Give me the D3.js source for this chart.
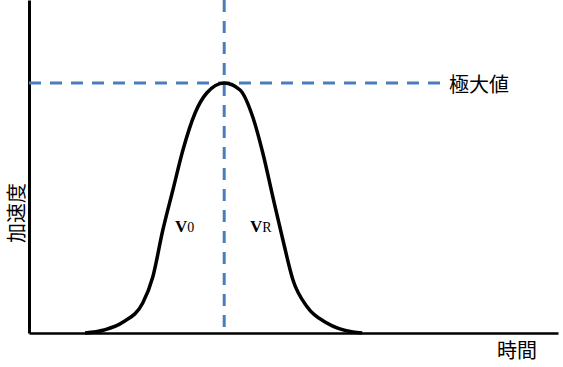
<!DOCTYPE html>
<html lang="ja">
<head>
<meta charset="UTF-8">
<title>加速度</title>
<script src="https://d3js.org/d3.v7.min.js"></script>
<style>
  body { margin: 0; background: #fff; }
</style>
</head>
<body>
<script>
// curve points (time, acceleration), arbitrary units
const times = [1.06, 1.42, 1.78, 2.15, 2.34, 2.53, 2.72, 2.91, 3.14, 3.36, 3.69, 3.99, 4.23, 4.42, 4.61, 4.80, 4.99, 5.26, 5.63, 6.12, 6.30];
const accel = [0, 0.012, 0.044, 0.12, 0.224, 0.412, 0.572, 0.732, 0.88, 0.96, 1.0, 0.972, 0.864, 0.72, 0.544, 0.372, 0.212, 0.104, 0.04, 0.004, 0];
const peakTime = 3.69;
const peakValue = 1.0;
const dashEnd = 7.77;
const xLabel = "時間";
const yLabel = "加速度";
const peakLabel = "極大値";

const W = 563, H = 367;
const svg = d3.select("body").append("svg")
    .attr("width", W)
    .attr("height", H);

const x = d3.scaleLinear().domain([0, 10]).range([29, 558]);
const y = d3.scaleLinear().domain([0, 1.332]).range([333, 0]);

// axes, no ticks
svg.append("g")
    .attr("transform", `translate(0,${y(0)})`)
    .call(d3.axisBottom(x).tickValues([]).tickSizeOuter(0))
    .select(".domain").attr("stroke", "#000").attr("stroke-width", 2.5);

svg.append("g")
    .attr("transform", `translate(${x(0)},0)`)
    .call(d3.axisLeft(y).tickValues([]).tickSizeOuter(0))
    .select(".domain").attr("stroke", "#000").attr("stroke-width", 3);

// dashed guides
const blue = "#4a7ebb";
svg.append("line")
    .attr("x1", x(0)).attr("x2", x(dashEnd))
    .attr("y1", y(peakValue)).attr("y2", y(peakValue))
    .attr("stroke", blue).attr("stroke-width", 3)
    .attr("stroke-dasharray", "12,9");

svg.append("line")
    .attr("x1", x(peakTime)).attr("x2", x(peakTime))
    .attr("y1", y(1.332)).attr("y2", y(0))
    .attr("stroke", blue).attr("stroke-width", 3)
    .attr("stroke-dasharray", "12,9");

// the bell curve
const pts = times.map((t, i) => [t, accel[i]]);
const line = d3.line()
    .x(d => x(d[0]))
    .y(d => y(d[1]))
    .curve(d3.curveMonotoneX);

svg.append("path")
    .datum(pts)
    .attr("d", line)
    .attr("fill", "none")
    .attr("stroke", "#000")
    .attr("stroke-width", 3.5);

// labels
const cjk = "'Noto Sans CJK JP', sans-serif";
svg.append("text")
    .attr("x", 449).attr("y", 92)
    .attr("font-family", cjk).attr("font-size", 20)
    .attr("fill", "#000")
    .text(peakLabel);

svg.append("text")
    .attr("x", 497).attr("y", 358)
    .attr("font-family", cjk).attr("font-size", 20)
    .attr("fill", "#000")
    .text(xLabel);

svg.append("text")
    .attr("transform", "translate(24,213) rotate(-90)")
    .attr("text-anchor", "middle")
    .attr("font-family", cjk).attr("font-size", 20)
    .attr("fill", "#000")
    .text(yLabel);

function vLabel(px, sub) {
    const t = svg.append("text")
        .attr("x", px).attr("y", 232)
        .attr("font-family", "'Liberation Serif', serif")
        .attr("fill", "#000");
    t.append("tspan").attr("font-size", 17).attr("font-weight", "bold").text("V");
    t.append("tspan").attr("font-size", 14).text(sub);
}
vLabel(175, "0");
vLabel(250, "R");
</script>
</body>
</html>
